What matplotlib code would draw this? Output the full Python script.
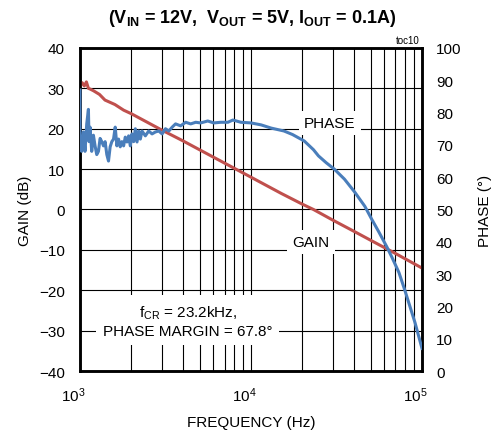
import matplotlib
matplotlib.use("Agg")
import matplotlib.pyplot as plt
import matplotlib.transforms as mtransforms
from matplotlib.ticker import LogLocator, FixedLocator, NullFormatter

plt.rcParams['font.family'] = ['Liberation Sans', 'DejaVu Sans']
plt.rcParams['mathtext.fontset'] = 'custom'
plt.rcParams['mathtext.rm'] = 'Liberation Sans'
plt.rcParams['mathtext.it'] = 'Liberation Sans:italic'
plt.rcParams['mathtext.bf'] = 'Liberation Sans:bold'

# ---- data ----
gain_freq = [1000, 1030, 1060, 1090, 1120, 1150, 1200, 1300, 1400, 1600, 1800, 2000,
             2500, 3000, 4000, 5000, 7000, 10000, 15000, 20000, 23200, 30000, 40000,
             50000, 70000, 100000]
gain_db = [30.5, 31.4, 30.6, 31.6, 30.0, 29.8, 29.4, 28.5, 27.1, 26.0, 24.6, 23.7,
           21.5, 19.7, 17.0, 14.8, 11.5, 8.0, 4.0, 1.3, 0.0, -2.6, -5.4,
           -7.6, -10.9, -14.5]

phase_freq = [1000, 1000, 1023, 1046, 1070, 1095, 1120, 1130, 1145, 1171, 1198, 1225,
              1253, 1282, 1311, 1341, 1372, 1403, 1435, 1468, 1501, 1535, 1571, 1607,
              1643, 1681, 1719, 1758, 1799, 1840, 1882, 1925, 1969, 2014, 2060, 2107,
              2155, 2204, 2254, 2305, 2411, 2522, 2639, 2761, 2889, 3022, 3162, 3308,
              3461, 3621, 3875, 4150, 4440, 4750, 5080, 5585, 6055, 6660, 7325, 7840,
              8730, 10000, 11450, 13120, 15600, 17500, 20500, 23200, 24800, 27500,
              30700, 35200, 40400, 46300, 50800, 56000, 62200, 67000, 73300, 79400,
              85000, 91000, 100000]
phase_deg = [87, 71, 68, 74, 68, 76.5, 81, 71, 75.5, 68, 73, 69.7,
             67, 68, 72, 71, 69.7, 71, 67, 65, 69.4, 71, 71.8, 75.5,
             69.7, 71.8, 69.4, 71, 69.7, 72.4, 70.9, 72.8, 69.7, 73.4, 71, 75,
             70.9, 74.3, 71.8, 74.3, 72.8, 74.3, 73.4, 74, 74.3, 73.4, 75, 74.3,
             75.5, 76.5, 75.9, 77, 76.5, 77, 76.8, 77.4, 76.8, 77, 77, 77.7,
             77, 76.8, 76.2, 75.2, 74.3, 73.2, 71.2, 68.5, 66.6, 64.5,
             62.5, 59.4, 55.4, 51, 47, 43, 38.5, 35, 30.5, 25,
             20, 15, 7]

gain_ticks = [-40, -30, -20, -10, 0, 10, 20, 30, 40]
phase_ticks = [0, 10, 20, 30, 40, 50, 60, 70, 80, 90, 100]

title = r"(V$_\mathbf{IN}$ = 12V,  V$_\mathbf{OUT}$ = 5V, I$_\mathbf{OUT}$ = 0.1A)"

BLUE = '#4a7ebb'
RED = '#c0504d'
FS = 11

fig = plt.figure(figsize=(4.95, 4.35), dpi=100)
ax = fig.add_axes([0.1616, 0.1448, 0.6909, 0.7426])
ax.set_xscale('log')
ax.set_xlim(1e3, 1e5)
ax.set_ylim(-40, 40)
ax.yaxis.set_major_locator(FixedLocator(gain_ticks))
ax.xaxis.set_major_locator(LogLocator(base=10, numticks=10))
ax.xaxis.set_minor_locator(LogLocator(base=10, subs=range(2, 10), numticks=20))
ax.xaxis.set_minor_formatter(NullFormatter())
ax.grid(which='major', axis='both', color='black', lw=0.8)
ax.grid(which='minor', axis='x', color='black', lw=0.8)
ax.tick_params(which='both', length=0)
ax.tick_params(axis='y', labelsize=FS, pad=11)
ax.tick_params(axis='x', labelsize=FS, pad=10)
for s in ax.spines.values():
    s.set_linewidth(1.8)
ax.plot(gain_freq, gain_db, color=RED, lw=2.2, zorder=3)
ax.set_ylabel('GAIN (dB)', fontsize=FS, labelpad=5)
ax.set_xlabel('FREQUENCY (Hz)', fontsize=FS, labelpad=8)

shift = mtransforms.ScaledTranslation(-0.07, 0, fig.dpi_scale_trans)
for lbl in ax.get_xticklabels():
    lbl.set_transform(lbl.get_transform() + shift)

ax2 = ax.twinx()
ax2.set_ylim(0, 100)
ax2.yaxis.set_major_locator(FixedLocator(phase_ticks))
ax2.tick_params(which='both', length=0, labelsize=FS, pad=10)
for s in ax2.spines.values():
    s.set_linewidth(1.8)
ax2.plot(phase_freq, phase_deg, color=BLUE, lw=2.2, zorder=3)
ax2.set_ylabel('PHASE (°)', fontsize=FS, labelpad=12)

bb = dict(facecolor='white', edgecolor='none', boxstyle='square,pad=0.35')
ax2.text(0.731, 0.768, 'PHASE', transform=ax2.transAxes, ha='center', va='center',
         fontsize=FS, bbox=bb, zorder=5)
ax2.text(0.675, 0.399, 'GAIN', transform=ax2.transAxes, ha='center', va='center',
         fontsize=FS, bbox=bb, zorder=5)
ax2.text(0.315, 0.155, 'f$_\\mathrm{CR}$ = 23.2kHz,\nPHASE MARGIN = 67.8°',
         transform=ax2.transAxes, ha='center', va='center', fontsize=FS,
         linespacing=1.3, zorder=5,
         bbox=dict(facecolor='white', edgecolor='none', boxstyle='square,pad=0.45'))

fig.text(0.509, 0.957, title, ha='center', va='center', fontsize=13, fontweight='bold')
fig.text(0.848, 0.905, 'toc10', ha='right', va='center', fontsize=7)

fig.savefig('out.png', dpi=100)
